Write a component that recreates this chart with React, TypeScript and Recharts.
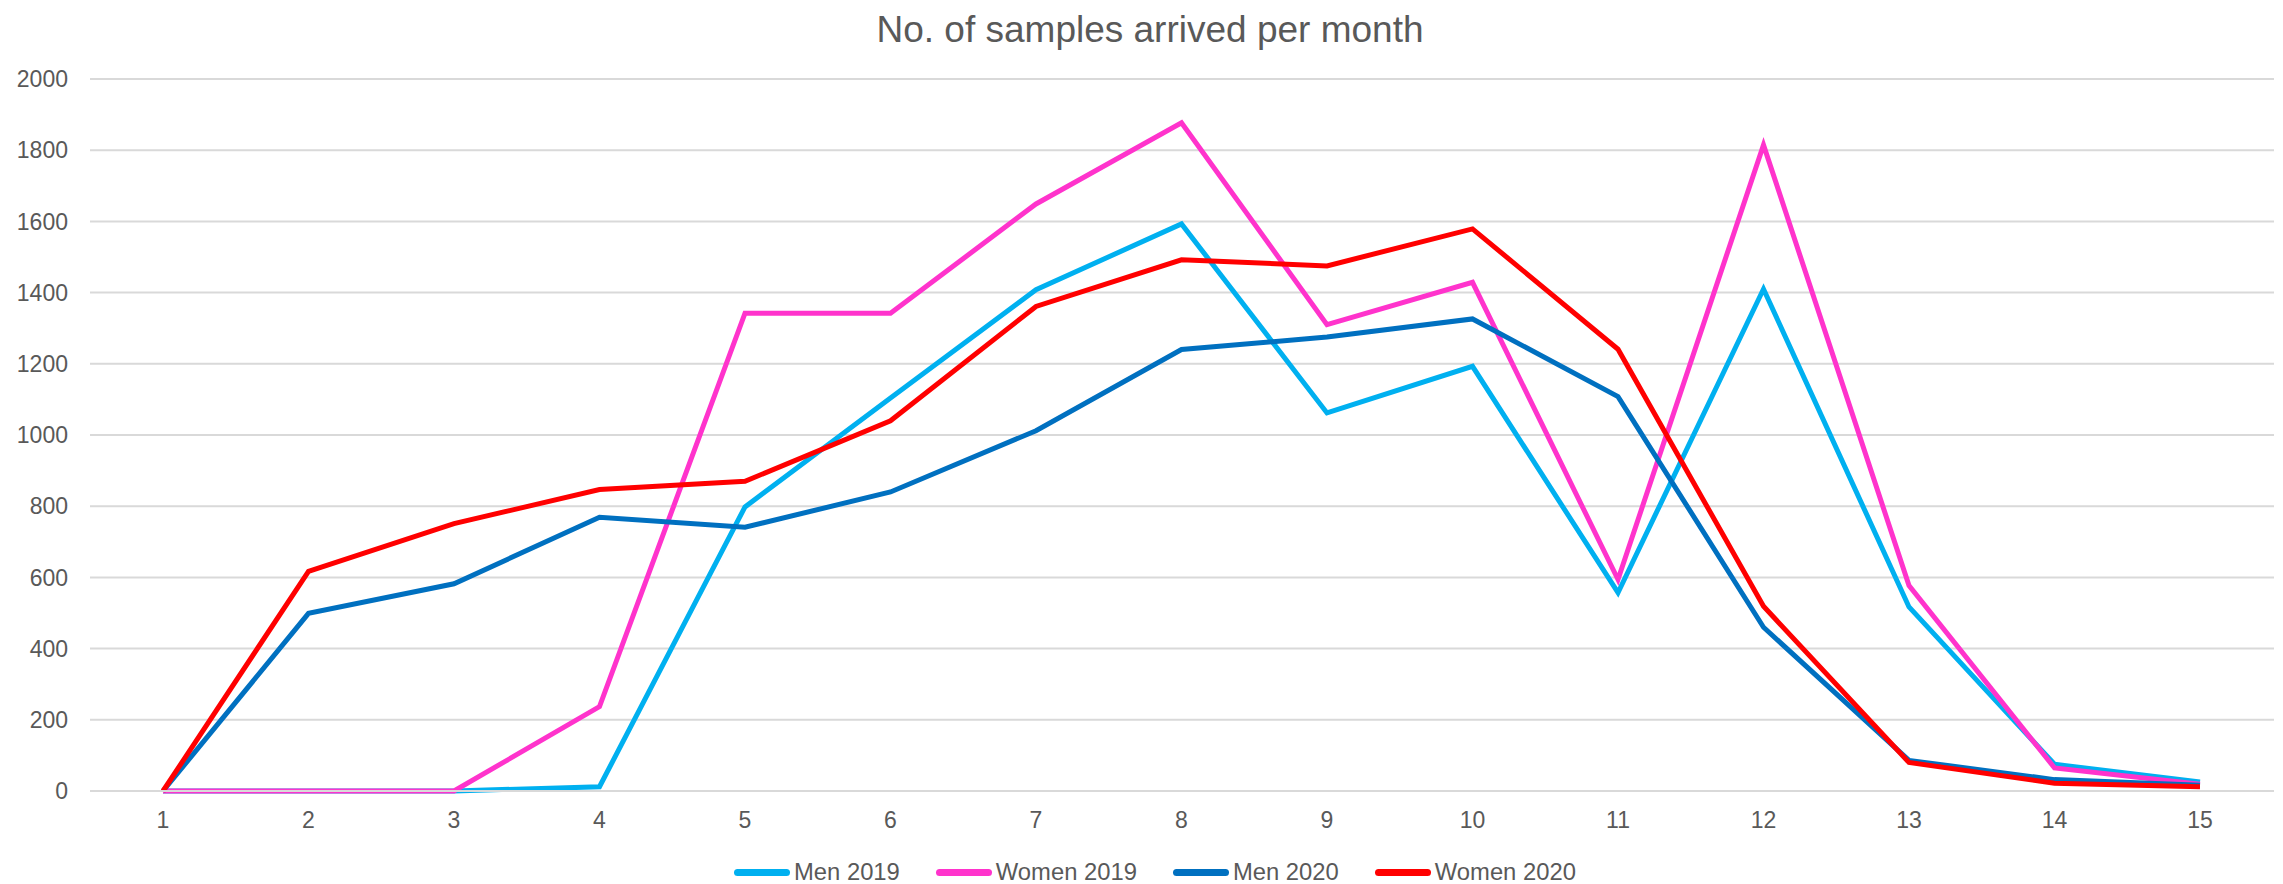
import React from "react";
import { LineChart, Line, XAxis, YAxis, CartesianGrid } from "recharts";

const months = ["1", "2", "3", "4", "5", "6", "7", "8", "9", "10", "11", "12", "13", "14", "15"];
const men2019 = [0, 0, 0, 12, 798, 1104, 1408, 1593, 1062, 1193, 557, 1410, 517, 75, 25];
const women2019 = [0, 0, 0, 237, 1342, 1342, 1649, 1877, 1310, 1429, 594, 1815, 577, 65, 19];
const men2020 = [0, 499, 582, 769, 741, 840, 1012, 1240, 1275, 1326, 1108, 460, 86, 32, 16];
const women2020 = [0, 617, 751, 847, 870, 1040, 1361, 1492, 1475, 1579, 1241, 519, 80, 22, 12];
const yTicks = [0, 200, 400, 600, 800, 1000, 1200, 1400, 1600, 1800, 2000];

const seriesDefs = [
  { key: "men2019", name: "Men 2019", color: "#00B0F0" },
  { key: "women2019", name: "Women 2019", color: "#FF33CC" },
  { key: "men2020", name: "Men 2020", color: "#0070C0" },
  { key: "women2020", name: "Women 2020", color: "#FF0000" },
];

const data = months.map((m, i) => ({
  month: m,
  men2019: men2019[i],
  women2019: women2019[i],
  men2020: men2020[i],
  women2020: women2020[i],
}));

const FONT = "'Liberation Sans', Arial, Helvetica, sans-serif";
const TEXT = "#595959";

export default function App() {
  return (
    <div
      style={{
        position: "absolute",
        left: 0,
        top: 0,
        width: 2283,
        height: 884,
        background: "#ffffff",
        fontFamily: FONT,
      }}
    >
      <svg
        width={2283}
        height={60}
        style={{ position: "absolute", left: 0, top: 0 }}
      >
        <text
          x={1150}
          y={41.5}
          textAnchor="middle"
          fontSize={37}
          fill={TEXT}
          fontFamily={FONT}
        >
          No. of samples arrived per month
        </text>
      </svg>
      <div style={{ position: "absolute", left: 0, top: 0 }}>
        <LineChart
          width={2283}
          height={884}
          data={data}
          margin={{ top: 79, right: 9, bottom: 33, left: 0 }}
        >
          <CartesianGrid vertical={false} stroke="#D9D9D9" strokeWidth={2} />
          <XAxis
            dataKey="month"
            padding={{ left: 73, right: 74 }}
            height={60}
            tickLine={false}
            axisLine={{ stroke: "#D9D9D9", strokeWidth: 2 }}
            tickSize={0}
            tickMargin={21}
            tick={{ fontSize: 23, fill: TEXT, fontFamily: FONT }}
            interval={0}
          />
          <YAxis
            width={90}
            domain={[0, 2000]}
            ticks={yTicks}
            axisLine={false}
            tickLine={false}
            tickSize={0}
            tickMargin={22}
            tick={{ fontSize: 23, fill: TEXT, fontFamily: FONT }}
            interval={0}
          />
          {seriesDefs.map((s) => (
            <Line
              key={s.key}
              type="linear"
              dataKey={s.key}
              name={s.name}
              stroke={s.color}
              strokeWidth={5}
              dot={false}
              activeDot={false}
              isAnimationActive={false}
            />
          ))}
        </LineChart>
      </div>
      <div
        style={{
          position: "absolute",
          left: 734,
          top: 860,
          height: 24,
          display: "flex",
          alignItems: "center",
          gap: 36,
          fontSize: 23.8,
          lineHeight: "24px",
          color: TEXT,
        }}
      >
        {seriesDefs.map((s) => (
          <div key={s.key} style={{ display: "flex", alignItems: "center" }}>
            <div
              style={{
                width: 56,
                height: 7,
                borderRadius: 4,
                background: s.color,
                marginRight: 4,
              }}
            />
            <span style={{ whiteSpace: "nowrap" }}>{s.name}</span>
          </div>
        ))}
      </div>
    </div>
  );
}
